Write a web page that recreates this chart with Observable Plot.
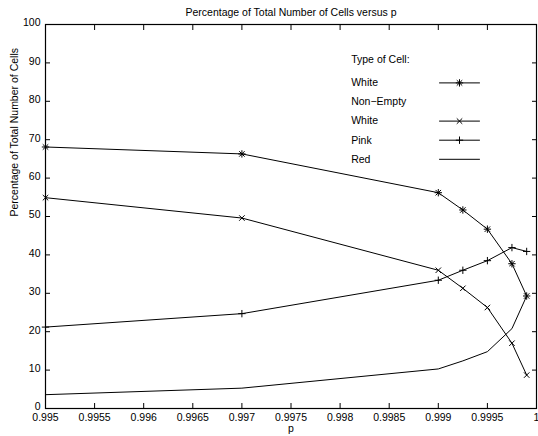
<!DOCTYPE html>
<html><head><meta charset="utf-8">
<script src="https://cdn.jsdelivr.net/npm/d3@7"></script>
<script src="https://cdn.jsdelivr.net/npm/@observablehq/plot@0.6"></script>
<style>body{margin:0;background:#fff;overflow:hidden}</style>
</head><body><div id="chart"></div>
<script>
// ---- data ----
const pValues = [0.995, 0.997, 0.999, 0.99925, 0.9995, 0.99975, 0.9999];
const whiteCells = [68.1, 66.3, 56.2, 51.7, 46.7, 37.7, 29.3];
const nonEmptyWhiteCells = [54.9, 49.6, 36.0, 31.3, 26.3, 17.0, 8.7];
const pinkCells = [21.2, 24.7, 33.4, 36.0, 38.5, 41.9, 40.9];
const redCells = [3.6, 5.3, 10.3, 12.4, 14.8, 20.8, 29.3];
const seriesNames = ["White", "Non-Empty White", "Pink", "Red"];
const seriesValues = [whiteCells, nonEmptyWhiteCells, pinkCells, redCells];
const seriesSymbols = [["plus", "times"], ["times"], ["plus"], []];

const xTicks = [0.995, 0.9955, 0.996, 0.9965, 0.997, 0.9975, 0.998, 0.9985, 0.999, 0.9995, 1];
const xTickLabels = ["0.995", "0.9955", "0.996", "0.9965", "0.997", "0.9975", "0.998", "0.9985", "0.999", "0.9995", "1"];
const yTicks = [0, 10, 20, 30, 40, 50, 60, 70, 80, 90, 100];
const yTickLabels = ["0", "10", "20", "30", "40", "50", "60", "70", "80", "90", "100"];

const titleText = "Percentage of Total Number of Cells versus p";
const xLabel = "p";
const yLabel = "Percentage of Total Number of Cells";
const legendTitle = "Type of Cell:";
const legendLabels = ["White", "Non\u2212Empty", "White", "Pink", "Red"];
const legendSeriesIndex = [0, null, 1, 2, 3];

// ---- build ----
const rows = seriesNames.flatMap((s, k) => pValues.map((p, i) => ({series: s, k, p, v: seriesValues[k][i]})));

const font = "'Liberation Sans', Arial, Helvetica, sans-serif";
const noText = () => "";
const legendRowStart = 58.4, legendRowStep = 19.1;
const lineShape = {draw(ctx, l) { ctx.moveTo(0, 0); ctx.lineTo(0, -l); }};

const marks = [
  Plot.frame({stroke: "black", strokeWidth: 1.2}),
  // inward ticks on all sides
  Plot.axisX(xTicks, {anchor: "bottom", tickSize: -5, tickFormat: noText, label: null}),
  Plot.axisX(xTicks, {anchor: "top", tickSize: -5, tickFormat: noText, label: null}),
  Plot.axisY(yTicks, {anchor: "left", tickSize: -5, tickFormat: noText, label: null}),
  Plot.axisY(yTicks, {anchor: "right", tickSize: -5, tickFormat: noText, label: null}),
  // tick labels
  Plot.axisX(xTicks, {anchor: "bottom", tickSize: 0, tickPadding: 5, tickFormat: (d, i) => xTickLabels[i], label: null}),
  Plot.axisY(yTicks, {anchor: "left", tickSize: 0, tickPadding: 5, dy: -1.5, tickFormat: (d, i) => yTickLabels[i], label: null}),
  // series lines
  Plot.line(rows, {x: "p", y: "v", z: "series", stroke: "black", strokeWidth: 1})
];
// series markers
seriesNames.forEach((s, k) => {
  seriesSymbols[k].forEach(sym => {
    marks.push(Plot.dot(rows.filter(d => d.k === k), {x: "p", y: "v", symbol: sym, r: sym === "plus" ? 2.5 : 2.6, stroke: "black", strokeWidth: 1}));
  });
});
// titles
marks.push(
  Plot.text([titleText], {frameAnchor: "top", dy: -11.6, lineAnchor: "middle", fill: "black"}),
  Plot.text([xLabel], {frameAnchor: "bottom", dy: 20, lineAnchor: "middle", fill: "black"}),
  Plot.text([yLabel], {frameAnchor: "left", dx: -31, rotate: -90, lineAnchor: "middle", fill: "black"})
);
// legend
marks.push(Plot.text([legendTitle], {frameAnchor: "top-left", dx: 305.7, dy: 34.7, textAnchor: "start", lineAnchor: "middle", fill: "black"}));
legendLabels.forEach((lab, i) => {
  const dy = legendRowStart + i * legendRowStep;
  marks.push(Plot.text([lab], {frameAnchor: "top-left", dx: 305.7, dy, textAnchor: "start", lineAnchor: "middle", fill: "black"}));
  const k = legendSeriesIndex[i];
  if (k !== null) {
    marks.push(Plot.vector([0], {frameAnchor: "top-right", dx: -77, dy, length: 40, rotate: 90, anchor: "middle", shape: lineShape, stroke: "black", strokeWidth: 1}));
    seriesSymbols[k].forEach(sym => {
      marks.push(Plot.dot([0], {frameAnchor: "top-right", dx: -77, dy, symbol: sym, r: sym === "plus" ? 2.5 : 2.6, stroke: "black", strokeWidth: 1}));
    });
  }
});

const chart = Plot.plot({
  width: 538,
  height: 436,
  marginLeft: 45,
  marginRight: 2,
  marginTop: 24,
  marginBottom: 28,
  style: {fontFamily: font, fontSize: "10.5px", color: "black", background: "white", overflow: "visible"},
  x: {domain: [0.995, 1]},
  y: {domain: [0, 100]},
  marks
});
document.getElementById("chart").append(chart);
</script>
</body></html>
